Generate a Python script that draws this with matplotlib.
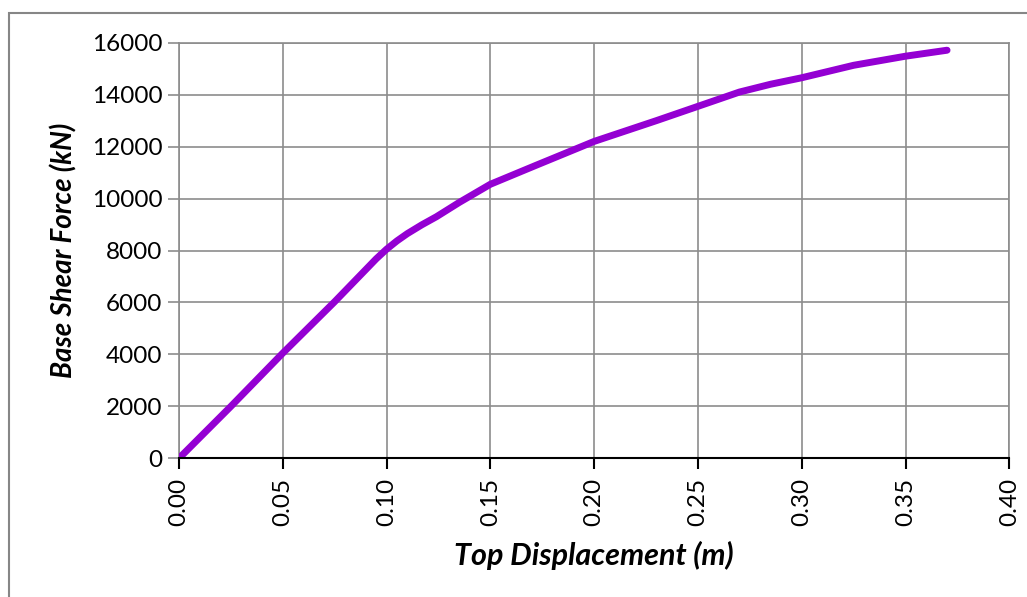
import numpy as np
import matplotlib.pyplot as plt
from matplotlib.patches import Rectangle

# pushover curve
disp = [0.0, 0.025, 0.05, 0.075, 0.095, 0.10, 0.105, 0.11, 0.117, 0.124,
        0.135, 0.15, 0.172, 0.20, 0.23, 0.25, 0.262, 0.27, 0.285, 0.30,
        0.325, 0.35, 0.37]
shear = [0, 2000, 4050, 6030, 7680, 8050, 8370, 8650, 8990, 9300,
         9850, 10550, 11280, 12200, 13000, 13550, 13880, 14100, 14400, 14650,
         15130, 15480, 15710]

xticks = [0.00, 0.05, 0.10, 0.15, 0.20, 0.25, 0.30, 0.35, 0.40]
yticks = [0, 2000, 4000, 6000, 8000, 10000, 12000, 14000, 16000]

plt.rcParams['font.family'] = ['Lato', 'DejaVu Sans']

fig = plt.figure(figsize=(10.27, 5.97), dpi=100)
ax = fig.add_axes([0.1743, 0.2323, 0.8085, 0.6962])

grid_c = '#8c8c8c'
ax.plot(disp, shear, color='#9400d3', lw=5, solid_capstyle='round',
        solid_joinstyle='round', zorder=3)

ax.set_xlim(0, 0.4)
ax.set_ylim(0, 16000)
ax.set_xticks(xticks)
ax.set_yticks(yticks)
ax.set_xticklabels(['%.2f' % v for v in xticks], rotation=90)
ax.grid(True, color=grid_c, lw=1.2)

for s in ['top', 'right', 'left']:
    ax.spines[s].set_color(grid_c)
    ax.spines[s].set_linewidth(1.2)
ax.spines['bottom'].set_color('black')
ax.spines['bottom'].set_linewidth(1.5)
ax.spines['bottom'].set_zorder(4)

ax.tick_params(axis='y', direction='out', length=8, width=1.2, color=grid_c,
               labelsize=17.5, pad=4)
ax.tick_params(axis='x', direction='out', length=8, width=1.5, color='black',
               labelsize=17.5, pad=6)

ax.set_xlabel('Top Displacement (m)', fontsize=22, fontweight='bold',
              fontstyle='italic', labelpad=11)
ax.set_ylabel('Base Shear Force (kN)', fontsize=20, fontweight='bold',
              fontstyle='italic', labelpad=10)

# chart area border (only left/top visible in the crop)
fig.patches.append(Rectangle((9 / 1027, -0.1), 1.2, 1 - 13 / 597 + 0.1,
                             transform=fig.transFigure, fill=False,
                             edgecolor='#868686', lw=1.5))

fig.savefig('out.png', dpi=100)
